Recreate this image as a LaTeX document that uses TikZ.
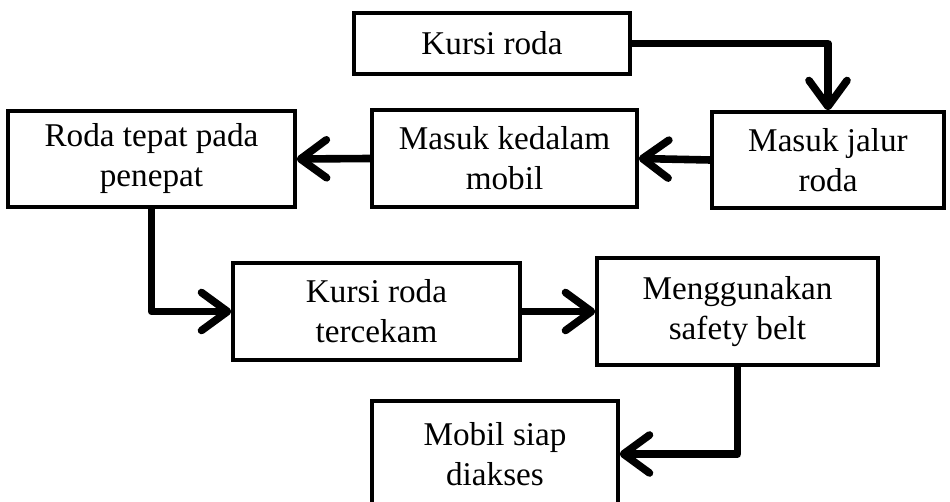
\documentclass[tikz,border=0pt]{standalone}
\usepackage{fontspec}
\setmainfont{Liberation Serif}
\usetikzlibrary{arrows.meta}

\begin{document}
\begin{tikzpicture}[x=0.5pt,y=-0.5pt]
\tikzstyle{kotak}=[draw=black, line width=1.7pt, align=center, inner sep=0pt, font=\fontsize{16.6}{20}\selectfont]
\tikzstyle{panah}=[line width=3.8pt, line join=round, -{Straight Barb[length=13pt,width=19pt,round]}]
\useasboundingbox (0,0) rectangle (950,502);
\node[kotak, minimum width=138pt, minimum height=30.5pt] (kursi) at (492,43.5) {Kursi roda};
\node[kotak, minimum width=116pt, minimum height=48pt] (jalur) at (828,160) {Masuk jalur\\roda};
\node[kotak, minimum width=132.5pt, minimum height=48.5pt] (masuk) at (504.5,158.5) {Masuk kedalam\\mobil};
\node[kotak, minimum width=143.5pt, minimum height=48pt] (roda) at (151.5,159) {Roda tepat pada\\penepat};
\node[kotak, minimum width=143.5pt, minimum height=48.5pt] (cekam) at (376.5,311.5) {Kursi roda\\tercekam};
\node[kotak, minimum width=140.5pt, minimum height=53.5pt] (belt) at (737.5,311.5) {Menggunakan\\safety belt};
\node[kotak, minimum width=123pt, minimum height=53pt] (mobil) at (495,454) {Mobil siap\\diakses};
\draw[panah] (kursi.east) -| (jalur.north);
\draw[panah] (jalur.west) -- (masuk.east);
\draw[panah] (masuk.west) -- (roda.east);
\draw[panah] (roda.south) |- (cekam.west);
\draw[panah] (cekam.east) -- (belt.west);
\draw[panah] (belt.south) |- (mobil.east);
\end{tikzpicture}
\end{document}
